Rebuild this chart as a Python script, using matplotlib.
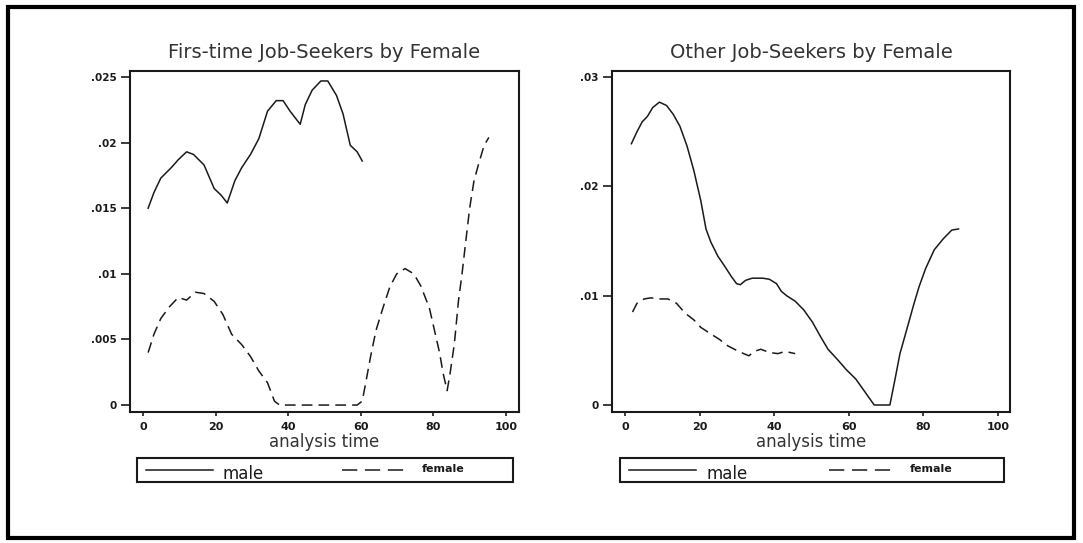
import numpy as np
import matplotlib.pyplot as plt
from matplotlib.lines import Line2D
from matplotlib.patches import Rectangle

# smoothed hazard estimates, first-time job seekers
first_male_t = [1.4, 3.0, 4.9, 7.8, 9.7, 12.0, 13.9, 16.8, 19.6, 21.5, 23.2, 25.3, 27.2,
                29.6, 31.9, 34.3, 36.7, 38.6, 40.5, 43.3, 44.7, 46.6, 49.0, 50.9, 53.3,
                55.1, 57.1, 59.0, 60.4]
first_male_h = [.0150, .0162, .0173, .0181, .0187, .0193, .0191, .0183, .0165, .0160, .0154,
                .0171, .0181, .0191, .0203, .0224, .0232, .0232, .0224, .0214, .0229, .0240,
                .0247, .0247, .0236, .0222, .0198, .0193, .0186]
first_female_t = [1.4, 3.0, 4.9, 7.3, 9.7, 12.0, 14.4, 16.8, 19.6, 22.0, 24.4, 27.2, 29.6,
                  31.9, 34.3, 36.2, 37.6, 45.0, 52.0, 59.0, 60.4, 61.3, 62.7, 64.2, 66.1,
                  68.0, 69.9, 72.2, 74.6, 76.5, 78.9, 80.3, 81.7, 82.7, 83.8, 84.6, 85.8,
                  86.9, 87.9, 88.9, 90.0, 91.2, 92.6, 94.0, 95.3]
first_female_h = [.0040, .0054, .0066, .0075, .0082, .0080, .0086, .0085, .0079, .0069,
                  .0054, .0046, .0037, .0026, .0017, .0003, 0, 0, 0, 0, .0003, .0016,
                  .0037, .0057, .0074, .0090, .0100, .0104, .0100, .0091, .0074, .0057,
                  .0040, .0024, .0011, .0024, .0047, .0079, .0100, .0124, .0150, .0171,
                  .0185, .0198, .0204]

# other job seekers
other_male_t = [1.7, 3.2, 4.6, 6.0, 7.4, 9.2, 11.1, 12.9, 14.7, 16.6, 18.4, 20.3, 21.7,
                23.0, 24.9, 26.7, 28.6, 29.9, 30.9, 32.3, 34.1, 36.9, 38.7, 40.6, 41.9,
                43.3, 45.6, 47.9, 50.2, 52.5, 54.4, 57.1, 59.4, 61.8, 64.1, 66.8, 71.0,
                72.4, 73.7, 75.6, 77.4, 78.8, 80.6, 82.9, 85.3, 87.6, 89.4]
other_male_h = [.0239, .0250, .0259, .0264, .0272, .0277, .0274, .0266, .0255, .0237,
                .0215, .0187, .0161, .0149, .0136, .0127, .0117, .0111, .0110, .0114,
                .0116, .0116, .0115, .0111, .0104, .0100, .0095, .0087, .0076, .0062,
                .0051, .0041, .0032, .0024, .0013, 0, 0, .0024, .0047, .0070, .0092,
                .0108, .0125, .0142, .0152, .0160, .0161]
other_female_t = [2.0, 3.2, 5.1, 6.9, 9.2, 11.5, 13.8, 16.1, 18.4, 20.3, 23.0, 25.3, 27.6,
                  29.9, 31.8, 33.2, 34.6, 36.4, 38.7, 41.0, 42.9, 45.6]
other_female_h = [.0085, .0093, .0097, .0098, .0097, .0097, .0093, .0084, .0078, .0071,
                  .0065, .0060, .0054, .0050, .0047, .0045, .0049, .0051, .0048, .0047,
                  .0049, .0047]

titles = ['Firs-time Job-Seekers by Female', 'Other Job-Seekers by Female']
yticks = [[0, .005, .01, .015, .02, .025], [0, .01, .02, .03]]
ylabels = [['0', '.005', '.01', '.015', '.02', '.025'], ['0', '.01', '.02', '.03']]
xticks = [0, 20, 40, 60, 80, 100]
keys = ['male', 'female']

W, H = 1083, 543
ink = '#1a1a1a'
fig = plt.figure(figsize=(W/100, H/100), dpi=100)
ax1 = fig.add_axes([130/W, 1-412/H, 389/W, 341/H])
ax2 = fig.add_axes([612/W, 1-412/H, 398/W, 341/H])

dash = (0, (7, 4))
ax1.plot(first_male_t, first_male_h, color=ink, lw=1.1)
ax1.plot(first_female_t, first_female_h, color=ink, lw=1.1, linestyle=dash)
ax2.plot(other_male_t, other_male_h, color=ink, lw=1.1)
ax2.plot(other_female_t, other_female_h, color=ink, lw=1.1, linestyle=dash)

ax1.set_xlim(-3.6, 103.6)
ax1.set_ylim(-0.00053, 0.02546)
ax2.set_xlim(-3.5, 103.2)
ax2.set_ylim(-0.00064, 0.03055)

for i, ax in enumerate([ax1, ax2]):
    ax.set_title(titles[i], fontsize=14, color='#333333', pad=9)
    ax.set_yticks(yticks[i])
    ax.set_yticklabels(ylabels[i])
    ax.set_xticks(xticks)
    ax.tick_params(axis='y', direction='out', length=6.5, width=1.2, pad=3,
                   labelsize=7.5, colors=ink)
    ax.tick_params(axis='x', direction='out', length=3, width=1.2, pad=4,
                   labelsize=8, colors=ink)
    for lab in ax.get_xticklabels() + ax.get_yticklabels():
        lab.set_fontweight('bold')
    for s in ax.spines.values():
        s.set_linewidth(1.5)
        s.set_color(ink)
    ax.set_xlabel('analysis time', fontsize=12, color='#333333', labelpad=1)

# legend boxes under each panel, laid out in pixels from the top-left corner
def px(x, y):
    return x / W, 1 - y / H

legend_boxes = [(137, 513), (620, 1004)]
for left, right in legend_boxes:
    x0, y0 = px(left, 482)
    x1, y1 = px(right, 458)
    fig.add_artist(Rectangle((x0, y0), x1 - x0, y1 - y0, transform=fig.transFigure,
                             fill=False, lw=1.5, edgecolor=ink))
    span = right - left
    # solid key
    a, yy = px(left + 9, 470)
    b, _ = px(left + 9 + 67, 470)
    fig.add_artist(Line2D([a, b], [yy, yy], color=ink, lw=1.1, transform=fig.transFigure))
    tx, ty = px(left + 86, 474)
    fig.text(tx, ty, keys[0], fontsize=12, color=ink, va='center', ha='left')
    # dashed key
    a, yy = px(left + 0.545 * span, 470)
    b, _ = px(left + 0.545 * span + 62, 470)
    fig.add_artist(Line2D([a, b], [yy, yy], color=ink, lw=1.1, linestyle=(0, (10, 5)),
                          transform=fig.transFigure))
    tx, ty = px(left + 0.545 * span + 80, 469)
    fig.text(tx, ty, keys[1], fontsize=8, fontweight='bold', color=ink,
             va='center', ha='left')

# outer frame around both panels
fig.add_artist(Rectangle((8/W, 5/H), 1066/W, 531/H, transform=fig.transFigure,
                         fill=False, lw=3, edgecolor='black'))

fig.savefig('out.png', dpi=100)
